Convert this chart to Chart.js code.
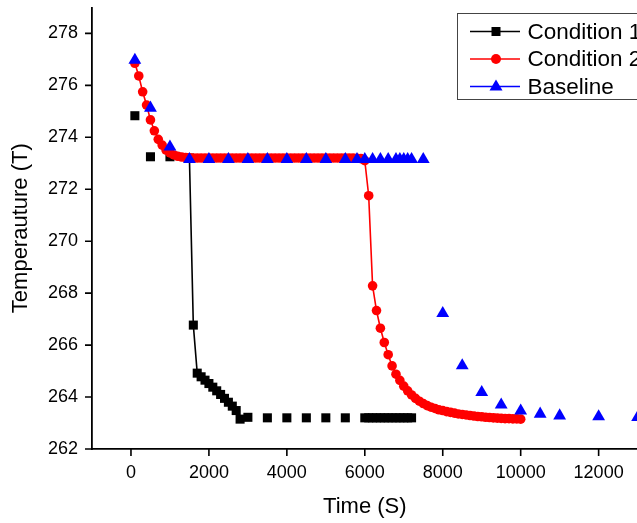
<!DOCTYPE html>
<html>
<head>
<meta charset="utf-8">
<script src="https://cdn.jsdelivr.net/npm/chart.js@4.4.1/dist/chart.umd.min.js"></script>
<style>
  html, body { margin: 0; padding: 0; background: #fff; overflow: hidden; }
  #wrap { width: 637px; height: 523px; position: relative; overflow: hidden; }
</style>
</head>
<body>
<div id="wrap"><canvas id="chart" width="645" height="523"></canvas></div>
<script>
// values
const seriesNames = ['Condition 1', 'Condition 2', 'Baseline'];

const c1Time = [100, 500, 1000, 1500, 1600, 1700, 1800, 1900, 2000, 2100, 2200, 2300, 2400, 2500,
  2600, 2700, 2800, 3000, 3500, 4000, 4500, 5000, 5500,
  6000, 6100, 6200, 6300, 6400, 6500, 6600, 6700, 6800, 6900, 7000, 7100, 7200];
const c1Temp = [274.83, 273.25, 273.25, 273.2, 266.77, 264.92, 264.78, 264.65, 264.52, 264.38, 264.24, 264.10, 263.95, 263.80,
  263.65, 263.48, 263.15, 263.22, 263.2, 263.2, 263.2, 263.2, 263.2,
  263.2, 263.2, 263.2, 263.2, 263.2, 263.2, 263.2, 263.2, 263.2, 263.2, 263.2, 263.2, 263.2];

const c2Time = [100, 200, 300, 400, 500, 600, 700, 800, 900, 1000,
  1100, 1200, 1300, 1400, 1500, 1600, 1700, 1800, 1900, 2000,
  2100, 2200, 2300, 2400, 2500, 2600, 2700, 2800, 2900, 3000,
  3100, 3200, 3300, 3400, 3500, 3600, 3700, 3800, 3900, 4000,
  4100, 4200, 4300, 4400, 4500, 4600, 4700, 4800, 4900, 5000,
  5100, 5200, 5300, 5400, 5500, 5600, 5700, 5800, 5900, 6000,
  6100, 6200, 6300, 6400, 6500, 6600, 6700, 6800, 6900, 7000,
  7100, 7200, 7300, 7400, 7500, 7600, 7700, 7800, 7900, 8000,
  8100, 8200, 8300, 8400, 8500, 8600, 8700, 8800, 8900, 9000,
  9100, 9200, 9300, 9400, 9500, 9600, 9700, 9800, 9900, 10000];
const c2Temp = [276.85, 276.36, 275.75, 275.24, 274.67, 274.25, 273.92, 273.70, 273.51, 273.40,
  273.32, 273.27, 273.24, 273.22, 273.21, 273.2, 273.2, 273.2, 273.2, 273.2,
  273.2, 273.2, 273.2, 273.2, 273.2, 273.2, 273.2, 273.2, 273.2, 273.2,
  273.2, 273.2, 273.2, 273.2, 273.2, 273.2, 273.2, 273.2, 273.2, 273.2,
  273.2, 273.2, 273.2, 273.2, 273.2, 273.2, 273.2, 273.2, 273.2, 273.2,
  273.2, 273.2, 273.2, 273.2, 273.2, 273.2, 273.2, 273.19, 273.18, 273.10,
  271.75, 268.28, 267.33, 266.65, 266.10, 265.63, 265.20, 264.88, 264.64, 264.42,
  264.24, 264.08, 263.95, 263.84, 263.75, 263.67, 263.61, 263.56, 263.51, 263.48,
  263.44, 263.41, 263.38, 263.35, 263.33, 263.31, 263.29, 263.27, 263.25, 263.24,
  263.22, 263.21, 263.20, 263.19, 263.18, 263.17, 263.17, 263.16, 263.16, 263.15];

const baseTime = [100, 500, 1000, 1500, 2000, 2500, 3000, 3500, 4000, 4500, 5000, 5500,
  5800, 6000, 6200, 6400, 6600, 6800, 6900, 7000, 7100, 7200, 7500,
  8000, 8500, 9000, 9500, 10000, 10500, 11000, 12000, 13000];
const baseTemp = [276.97, 275.13, 273.63, 273.15, 273.15, 273.15, 273.15, 273.15, 273.15, 273.15, 273.15, 273.15,
  273.15, 273.15, 273.15, 273.15, 273.15, 273.15, 273.15, 273.15, 273.15, 273.15, 273.15,
  267.22, 265.21, 264.18, 263.70, 263.47, 263.35, 263.28, 263.25, 263.22];

const toPoints = (xs, ys) => xs.map((x, i) => ({ x: x, y: ys[i] }));

Chart.defaults.font.family = '"Liberation Sans", Arial, sans-serif';
Chart.defaults.color = '#000';

// tick marks: long for labelled ticks, short for the ones in between
const tickMarks = {
  id: 'tickMarks',
  afterDraw(chart) {
    const ctx = chart.ctx;
    const xs = chart.scales.x, ys = chart.scales.y;
    ctx.save();
    ctx.strokeStyle = '#000';
    ctx.lineWidth = 1.6;
    ctx.beginPath();
    xs.ticks.forEach(t => {
      const px = xs.getPixelForValue(t.value);
      const len = t.value % 2000 === 0 ? 7 : 4;
      ctx.moveTo(px, xs.top);
      ctx.lineTo(px, xs.top + len);
    });
    ys.ticks.forEach(t => {
      const py = ys.getPixelForValue(t.value);
      const len = t.value % 2 === 0 ? 7 : 4;
      ctx.moveTo(ys.right, py);
      ctx.lineTo(ys.right - len, py);
    });
    ctx.stroke();
    ctx.restore();
  }
};

// boxed legend in the top right corner
const boxLegend = {
  id: 'boxLegend',
  afterDraw(chart) {
    const ctx = chart.ctx;
    ctx.save();
    ctx.fillStyle = '#fff';
    ctx.fillRect(458, 14, 240, 85);
    ctx.strokeStyle = '#444';
    ctx.lineWidth = 1;
    ctx.strokeRect(457.5, 13.5, 240, 86);
    chart.data.datasets.forEach((ds, i) => {
      const y = 31.5 + i * 27.5;
      const col = ds.pointBackgroundColor;
      ctx.strokeStyle = col;
      ctx.fillStyle = col;
      ctx.lineWidth = 1.6;
      ctx.beginPath();
      ctx.moveTo(470, y);
      ctx.lineTo(520, y);
      ctx.stroke();
      ctx.beginPath();
      if (ds.pointStyle === 'rect') {
        ctx.rect(491.5, y - 4.5, 9, 9);
      } else if (ds.pointStyle === 'circle') {
        ctx.arc(496, y, 5, 0, Math.PI * 2);
      } else {
        ctx.moveTo(496, y - 7);
        ctx.lineTo(502.5, y + 4);
        ctx.lineTo(489.5, y + 4);
        ctx.closePath();
      }
      ctx.fill();
      ctx.fillStyle = '#000';
      ctx.font = '22.5px "Liberation Sans", Arial, sans-serif';
      ctx.textBaseline = 'middle';
      ctx.textAlign = 'left';
      ctx.fillText(seriesNames[i], 527.5, y + 1);
    });
    ctx.restore();
  }
};

new Chart(document.getElementById('chart'), {
  type: 'line',
  data: {
    datasets: [
      {
        label: seriesNames[0],
        data: toPoints(c1Time, c1Temp),
        order: 2,
        borderColor: '#000',
        borderWidth: 1.6,
        segment: {
          borderColor: ctx => (ctx.p0.parsed.x >= 1500 && ctx.p1.parsed.x <= 2800) ? '#000' : 'rgba(0,0,0,0)'
        },
        pointStyle: 'rect',
        pointRadius: 6.4,
        pointBorderWidth: 0,
        pointBackgroundColor: '#000',
        clip: false
      },
      {
        label: seriesNames[1],
        data: toPoints(c2Time, c2Temp),
        order: 1,
        borderColor: '#ff0000',
        borderWidth: 1.6,
        pointStyle: 'circle',
        pointRadius: 4.8,
        pointBorderWidth: 0,
        pointBackgroundColor: '#ff0000',
        clip: false
      },
      {
        label: seriesNames[2],
        data: toPoints(baseTime, baseTemp),
        order: 0,
        showLine: false,
        borderColor: '#0000ff',
        pointStyle: 'triangle',
        pointRadius: 7.4,
        pointBorderWidth: 0,
        pointBackgroundColor: '#0000ff',
        clip: false
      }
    ]
  },
  options: {
    responsive: false,
    animation: false,
    layout: { padding: { top: 7, left: 0, right: 0, bottom: 0 } },
    plugins: {
      legend: { display: false },
      tooltip: { enabled: false }
    },
    scales: {
      x: {
        type: 'linear',
        min: -1000,
        max: 13000,
        grid: { display: false, drawTicks: false },
        border: { display: true, color: '#000', width: 1.8 },
        ticks: {
          stepSize: 1000,
          autoSkip: false,
          maxRotation: 0,
          padding: 13,
          font: { size: 18 },
          callback: v => (v % 2000 === 0 ? String(v) : null)
        },
        title: { display: true, text: 'Time (S)', font: { size: 22 }, padding: { top: 0, bottom: 3 } },
        afterFit: s => { s.height = 74; s.paddingLeft = 0; s.paddingRight = 0; }
      },
      y: {
        min: 262,
        max: 279,
        grid: { display: false, drawTicks: false },
        border: { display: true, color: '#000', width: 1.8 },
        ticks: {
          stepSize: 1,
          autoSkip: false,
          padding: 14,
          font: { size: 18 },
          callback: v => (v % 2 === 0 ? String(v) : null)
        },
        title: { display: true, text: 'Temperauture (T)', font: { size: 22 }, padding: { top: 8, bottom: 0 } },
        afterFit: s => { s.width = 92; s.paddingTop = 0; s.paddingBottom = 0; }
      }
    }
  },
  plugins: [tickMarks, boxLegend]
});
</script>
</body>
</html>
